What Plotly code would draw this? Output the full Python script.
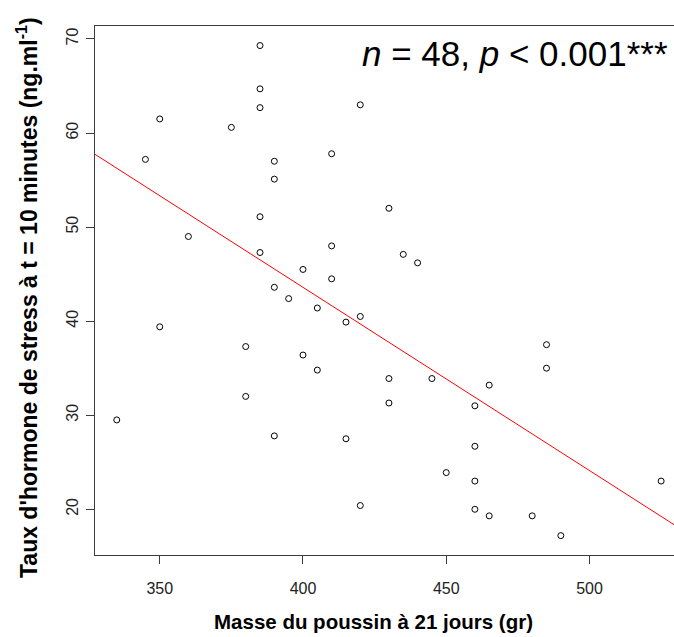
import numpy as np
import plotly.graph_objects as go

# Data
masse = [385, 385, 385, 350, 375, 420, 345, 390, 410, 390,
         430, 385, 360, 385, 410, 400, 410, 390, 395, 405,
         420, 415, 350, 380, 400, 405, 430, 430, 380, 335,
         390, 415, 420, 485, 485, 445, 465, 460, 460, 450,
         460, 525, 460, 465, 480, 490, 435, 440]
hormone = [69.3, 64.7, 62.7, 61.5, 60.6, 63.0, 57.2, 57.0, 57.8, 55.1,
           52.0, 51.1, 49.0, 47.3, 48.0, 45.5, 44.5, 43.6, 42.4, 41.4,
           40.5, 39.9, 39.4, 37.3, 36.4, 34.8, 33.9, 31.3, 32.0, 29.5,
           27.8, 27.5, 20.4, 37.5, 35.0, 33.9, 33.2, 31.0, 26.7, 23.9,
           23.0, 23.0, 20.0, 19.3, 19.3, 17.2, 47.1, 46.2]
x_ticks = [350, 400, 450, 500]
y_ticks = [20, 30, 40, 50, 60, 70]
x_range = [327.4, 529.5]
y_range = [15.14, 71.38]

slope, intercept = np.polyfit(masse, hormone, 1)
line_x = np.array(x_range)
line_y = intercept + slope * line_x

fig = go.Figure()
fig.add_trace(go.Scatter(
    x=line_x, y=line_y, mode="lines",
    line=dict(color="#ff0000", width=1), showlegend=False, hoverinfo="skip"))
fig.add_trace(go.Scatter(
    x=masse, y=hormone, mode="markers",
    marker=dict(symbol="circle-open", size=6, color="#000000",
                line=dict(width=1, color="#000000")),
    showlegend=False))

axis_font = dict(family="Liberation Sans, Arial, sans-serif", size=16, color="#222222")
xtitle_font = dict(family="Liberation Sans, Arial, sans-serif", size=20.5, color="#000000")
ytitle_font = dict(family="Liberation Sans, Arial, sans-serif", size=23, color="#000000")

fig.update_layout(
    width=674, height=637,
    margin=dict(l=95, r=0, t=26, b=82, pad=0),
    paper_bgcolor="white", plot_bgcolor="white",
    xaxis=dict(range=x_range, tickvals=x_ticks, ticktext=[str(v) for v in x_ticks],
               showgrid=False, zeroline=False, showline=True, mirror=True,
               linecolor="#3c3c3c", linewidth=1,
               ticks="outside", ticklen=8, tickcolor="#3c3c3c", tickwidth=1,
               tickfont=axis_font, ticklabelstandoff=11),
    yaxis=dict(range=y_range, tickvals=y_ticks, ticktext=[str(v) for v in y_ticks],
               showgrid=False, zeroline=False, showline=True, mirror=False,
               linecolor="#3c3c3c", linewidth=1,
               ticks="outside", ticklen=8, tickcolor="#3c3c3c", tickwidth=1,
               tickangle=-90, tickfont=axis_font, ticklabelstandoff=2),
    annotations=[
        dict(text="<i>n</i> = 48, <i>p</i> &lt; 0.001***",
             xref="paper", yref="paper", x=(670 - 95) / 579, y=(555 - 54) / 529,
             xanchor="right", yanchor="middle", showarrow=False,
             font=dict(family="Liberation Sans, Arial, sans-serif", size=35, color="#000000")),
        dict(text="<b>Masse du poussin à 21 jours (gr)</b>",
             xref="paper", yref="paper", x=(373 - 95) / 579, y=(555 - 621) / 529,
             xanchor="center", yanchor="middle", showarrow=False, font=xtitle_font),
        dict(text="<b>Taux d'hormone de stress à t = 10 minutes (ng.ml<sup>-1</sup>)</b>",
             xref="paper", yref="paper", x=(27 - 95) / 579, y=(555 - 298) / 529,
             xanchor="center", yanchor="middle", textangle=-90, showarrow=False,
             font=ytitle_font),
    ],
)

fig.write_html("out.html",
               config={"displayModeBar": False},
               post_script="document.body.style.margin='0px';"
                           "document.body.style.overflow='hidden';")
